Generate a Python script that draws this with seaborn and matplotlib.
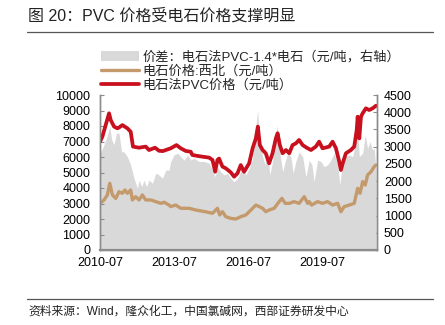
import matplotlib
matplotlib.use("Agg")
import matplotlib.pyplot as plt
from matplotlib.patches import Patch
from matplotlib.lines import Line2D
import seaborn as sns
import pandas as pd

# ---------------- data ----------------
red_dates = ["2010-07-01", "2010-08-05", "2010-09-23", "2010-11-12", "2010-12-06", "2011-01-25",
             "2011-03-15", "2011-04-08", "2011-05-27", "2011-08-10", "2011-09-28", "2011-11-01",
             "2012-01-29", "2012-05-07", "2012-06-25", "2012-09-22", "2012-11-20", "2013-01-15",
             "2013-02-28", "2013-05-12", "2013-08-05", "2013-10-08", "2013-12-20", "2014-03-04",
             "2014-03-28", "2014-05-17", "2014-08-25", "2014-12-01", "2015-01-20", "2015-02-28",
             "2015-04-03", "2015-04-27", "2015-06-16", "2015-08-04", "2015-10-17", "2015-12-05",
             "2016-01-25", "2016-03-13", "2016-05-01", "2016-07-15", "2016-09-04", "2016-10-22",
             "2016-11-21", "2016-12-20", "2017-01-30", "2017-03-18", "2017-05-06", "2017-06-26",
             "2017-08-14", "2017-09-09", "2017-10-12", "2017-11-22", "2018-01-10", "2018-02-28",
             "2018-04-18", "2018-06-06", "2018-07-24", "2018-09-14", "2018-11-12", "2019-01-15",
             "2019-03-28", "2019-05-16", "2019-07-05", "2019-10-12", "2019-12-01", "2020-01-20",
             "2020-03-08", "2020-04-02", "2020-05-06", "2020-06-15", "2020-08-28", "2020-10-16",
             "2020-11-22", "2020-12-06", "2020-12-30", "2021-01-24", "2021-02-18", "2021-04-07",
             "2021-05-25", "2021-07-15", "2021-09-03"]
pvc_price = [6990, 7310, 8060, 8820, 8390, 7960,
             7850, 7900, 8060, 7850, 7630, 6670,
             6600, 6670, 6450, 6600, 6400, 6380,
             6450, 6560, 6770, 6560, 6390, 6340,
             6130, 6090, 6020, 5960, 5810, 5050,
             5810, 5900, 5380, 5270, 5010, 4730,
             4950, 5480, 5050, 5590, 6560, 7200,
             7960, 6770, 6450, 6240, 5590, 6240,
             7200, 7530, 6770, 6240, 6450, 6240,
             6770, 6880, 7100, 6770, 6600, 6450,
             6670, 6990, 6560, 6670, 6990, 6560,
             5700, 5160, 5700, 6240, 6450, 6670,
             7740, 8600, 7200, 8600, 8820, 9140,
             9030, 9140, 9310]

brown_dates = ["2010-07-01", "2010-08-30", "2010-10-18", "2010-11-22", "2011-01-01", "2011-02-19",
               "2011-04-08", "2011-05-27", "2011-07-05", "2011-08-10", "2011-09-28", "2011-10-23",
               "2011-12-11", "2012-01-29", "2012-03-19", "2012-05-07", "2012-07-20", "2012-10-03",
               "2012-12-16", "2013-02-04", "2013-04-17", "2013-05-12", "2013-07-25", "2013-10-08",
               "2014-02-09", "2014-05-17", "2014-10-03", "2015-01-20", "2015-04-03", "2015-05-07",
               "2015-06-16", "2015-08-04", "2015-10-17", "2016-01-01", "2016-03-13", "2016-05-27",
               "2016-08-10", "2016-10-22", "2016-12-10", "2017-01-30", "2017-03-18", "2017-05-06",
               "2017-07-20", "2017-10-02", "2017-11-12", "2017-12-30", "2018-02-28", "2018-05-11",
               "2018-07-24", "2018-10-08", "2018-11-27", "2018-12-20", "2019-01-25", "2019-04-23",
               "2019-07-05", "2019-09-18", "2019-12-01", "2020-02-14", "2020-04-02", "2020-05-21",
               "2020-08-03", "2020-10-16", "2020-12-06", "2021-01-10", "2021-02-18", "2021-03-28",
               "2021-05-02", "2021-06-21", "2021-08-08", "2021-09-03"]
carbide_price = [3010, 3230, 3550, 4300, 3550, 3330,
                 3760, 3660, 3870, 3660, 3870, 3230,
                 3440, 3230, 3550, 3230, 3230, 3120,
                 3010, 3080, 2900, 2800, 2900, 2690,
                 2690, 2580, 2470, 2370, 2690, 2260,
                 2470, 2150, 2040, 2000, 2150, 2260,
                 2580, 2900, 2800, 2690, 2470, 2580,
                 2690, 3120, 3330, 3010, 3010, 3120,
                 3010, 3440, 3010, 3120, 2900, 3120,
                 3010, 3120, 2900, 3010, 2470, 2800,
                 2900, 3010, 3980, 3660, 4410, 4190,
                 4840, 5050, 5380, 5480]

gray_dates = ["2010-07-01", "2010-08-30", "2010-10-18", "2010-11-22", "2010-12-21", "2011-01-25",
              "2011-03-01", "2011-04-08", "2011-05-17", "2011-06-20", "2011-08-10", "2011-09-28",
              "2011-11-16", "2012-01-06", "2012-01-29", "2012-03-09", "2012-04-12", "2012-05-17",
              "2012-06-25", "2012-08-15", "2012-10-03", "2012-11-20", "2013-01-10", "2013-02-28",
              "2013-04-17", "2013-05-12", "2013-06-30", "2013-08-20", "2013-10-08", "2013-11-26",
              "2014-01-16", "2014-03-04", "2014-04-22", "2014-07-05", "2014-09-18", "2014-12-01",
              "2015-01-20", "2015-02-28", "2015-04-03", "2015-05-22", "2015-07-10", "2015-08-30",
              "2015-10-17", "2015-12-05", "2016-01-25", "2016-02-18", "2016-04-08", "2016-05-27",
              "2016-07-15", "2016-09-04", "2016-10-12", "2016-11-17", "2016-12-10", "2017-01-30",
              "2017-03-08", "2017-04-13", "2017-05-17", "2017-06-26", "2017-08-04", "2017-09-03",
              "2017-10-12", "2017-11-22", "2017-12-30", "2018-02-05", "2018-03-24", "2018-04-27",
              "2018-06-06", "2018-07-24", "2018-09-14", "2018-11-02", "2018-12-20", "2019-01-30",
              "2019-03-03", "2019-04-23", "2019-06-11", "2019-07-29", "2019-09-18", "2019-11-06",
              "2019-12-25", "2020-02-14", "2020-03-18", "2020-04-27", "2020-06-15", "2020-08-03",
              "2020-09-23", "2020-11-11", "2020-12-06", "2020-12-30", "2021-02-18", "2021-03-28",
              "2021-05-02", "2021-06-06", "2021-07-15", "2021-08-08", "2021-09-03"]
spread = [2810, 3050, 3340, 3580, 3200, 3060,
          3390, 3390, 2850, 2850, 2710, 2470,
          2080, 1790, 2030, 1840, 2030, 1840,
          2030, 1940, 2230, 2180, 2080, 2320,
          2320, 2570, 2760, 2810, 2710, 2610,
          2760, 2610, 2660, 2570, 2570, 2520,
          2320, 2130, 2420, 2270, 2180, 2230,
          2080, 1980, 2080, 2180, 2420, 2180,
          2370, 2660, 3430, 4060, 3340, 2710,
          2470, 2850, 2180, 2570, 3240, 3610,
          2850, 2270, 2570, 2810, 2710, 2230,
          2570, 2850, 2710, 2120, 2610, 2470,
          1980, 2610, 2570, 2420, 2470, 2610,
          2810, 2470, 1890, 2570, 2710, 2760,
          2710, 3200, 3530, 2710, 2810, 3340,
          2950, 3150, 2900, 2950, 2320]

legend_labels = ["价差：电石法PVC-1.4*电石（元/吨，右轴）",
                 "电石价格:西北（元/吨）",
                 "电石法PVC价格（元/吨）"]
title_text = "图 20：PVC 价格受电石价格支撑明显"
source_text = "资料来源：Wind，隆众化工，中国氯碱网，西部证券研发中心"
xtick_labels = ["2010-07", "2013-07", "2016-07", "2019-07"]
left_ticks = [0, 1000, 2000, 3000, 4000, 5000, 6000, 7000, 8000, 9000, 10000]
right_ticks = [0, 500, 1000, 1500, 2000, 2500, 3000, 3500, 4000, 4500]

# ---------------- style ----------------
sns.set_theme(style="white")
plt.rcParams["font.family"] = ["Liberation Sans", "Noto Sans CJK SC", "DejaVu Sans"]

RED = "#C8101E"
BROWN = "#C49A6C"
GRAY = "#D9D9D9"
SPINE = "#8C8C8C"

df_red = pd.DataFrame({"date": pd.to_datetime(red_dates), "v": pvc_price})
df_brown = pd.DataFrame({"date": pd.to_datetime(brown_dates), "v": carbide_price})
df_gray = pd.DataFrame({"date": pd.to_datetime(gray_dates), "v": spread})

fig = plt.figure(figsize=(4.45, 3.25), dpi=100)
ax = fig.add_axes([100 / 445, 1 - 250 / 325, 277 / 445, 155 / 325])
ax2 = ax.twinx()

# gray area on right axis
ax2.fill_between(df_gray["date"], 0, df_gray["v"], color=GRAY, linewidth=0)
ax2.set_ylim(0, 4500)
ax2.set_yticks(right_ticks)

# lines on left axis
sns.lineplot(data=df_brown, x="date", y="v", ax=ax, color=BROWN, linewidth=2.4, legend=False)
sns.lineplot(data=df_red, x="date", y="v", ax=ax, color=RED, linewidth=2.7, legend=False)
ax.set_ylim(0, 10000)
ax.set_yticks(left_ticks)
ax.set_zorder(ax2.get_zorder() + 1)
ax.patch.set_visible(False)

xmin = pd.Timestamp("2010-07-01")
xmax = pd.Timestamp("2021-09-18")
ax.set_xlim(xmin, xmax)
ax.set_xticks(pd.to_datetime([t + "-01" for t in xtick_labels]))
ax.set_xticklabels(xtick_labels)
ax.set_xlabel("")
ax.set_ylabel("")
ax2.set_ylabel("")

for a in (ax, ax2):
    a.spines["top"].set_visible(False)
    for s in ("left", "right", "bottom"):
        a.spines[s].set_color(SPINE)
        a.spines[s].set_linewidth(1.0)
    a.tick_params(axis="both", direction="in", length=3, width=0.8, color=SPINE,
                  labelsize=9, labelcolor="black", pad=4)
ax.spines["bottom"].set_linewidth(1.6)
ax.tick_params(axis="x", pad=5)
ax2.tick_params(axis="y", pad=5)
ax.tick_params(axis="y", pad=7)

# legend
handles = [Patch(facecolor=GRAY, edgecolor="none"),
           Line2D([0], [0], color=BROWN, linewidth=2.4),
           Line2D([0], [0], color=RED, linewidth=2.7)]
fig.legend(handles, legend_labels, loc="upper left",
           bbox_to_anchor=(101 / 445, 1 - 51 / 325), frameon=False,
           handlelength=2.9, handleheight=0.75, handletextpad=0.25,
           labelspacing=0.1, borderaxespad=0, borderpad=0,
           prop={"family": ["Liberation Sans", "Noto Sans CJK SC"], "size": 9.5})

# title and source
fig.text(28 / 445, 1 - 16 / 325, title_text, fontsize=11.5, va="center", ha="left",
         color="#222222")
fig.add_artist(Line2D([27 / 445, 433 / 445], [1 - 32 / 325, 1 - 32 / 325],
                      color="#555555", linewidth=0.9))
fig.add_artist(Line2D([27 / 445, 433 / 445], [1 - 299 / 325, 1 - 299 / 325],
                      color="#555555", linewidth=0.9))
fig.text(28 / 445, 1 - 312 / 325, source_text, fontsize=8.5, va="center", ha="left",
         color="#222222")

fig.savefig("out.png", dpi=100)
